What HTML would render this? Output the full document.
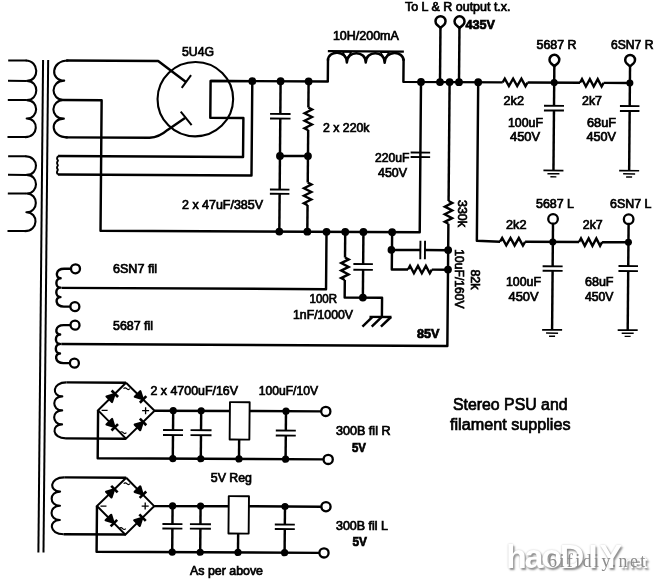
<!DOCTYPE html>
<html><head><meta charset="utf-8"><title>Stereo PSU and filament supplies</title>
<style>
html,body{margin:0;padding:0;background:#fff;}
body{width:659px;height:581px;overflow:hidden;position:relative;font-family:"Liberation Sans",sans-serif;}
svg{position:absolute;left:0;top:0;display:block;will-change:transform;}
svg text{font-family:"Liberation Sans",sans-serif;fill:#000;stroke:#000;stroke-width:0.7px;}
.wm{position:absolute;left:506px;top:536px;font-family:"Liberation Sans",sans-serif;font-weight:bold;font-size:34px;letter-spacing:-2.2px;color:#fff;text-shadow:1.5px 2px 2px #8f8f8f,0 0 2px #c4c4c4;white-space:nowrap;line-height:40px;}
.wm small{font-size:17px;letter-spacing:-0.8px;}
.wm2{position:absolute;left:548px;top:550px;font-family:"Liberation Serif",serif;font-size:18px;color:#8c8c8c;letter-spacing:2.4px;white-space:nowrap;line-height:22px;}
</style></head><body>
<svg width="659" height="581" viewBox="0 0 659 581">
<rect width="659" height="581" fill="#fff"/>
<g transform="matrix(1 0.005 -0.0085 1 0.69 -1.25)" fill="none" stroke="#000" stroke-linecap="butt" stroke-linejoin="round">
<path d="M25.5 61.6 C39.5 61.6 39.5 82 27 82 C39.5 82 39.5 101.2 27 101.2 C39.5 101.2 39.5 119.6 27 119.6 C39.5 119.6 39.5 138.2 25.5 138.2" stroke-width="2.1"/>
<path d="M8 61.6 L26.5 61.6" stroke-width="2"/>
<path d="M8 82 L26.5 82" stroke-width="2"/>
<path d="M8 101.2 L26.5 101.2" stroke-width="2"/>
<path d="M8 138.2 L26.5 138.2" stroke-width="2"/>
<path d="M26 157.4 C40 157.4 40 176 27.5 176 C40 176 40 194.6 27.5 194.6 C40 194.6 40 213.4 27.5 213.4 C40 213.4 40 232.2 26 232.2" stroke-width="2.1"/>
<path d="M8.8 157.4 L27 157.4" stroke-width="2"/>
<path d="M8.8 176 L27 176" stroke-width="2"/>
<path d="M8.8 194.6 L27 194.6" stroke-width="2"/>
<path d="M8.8 232.2 L27 232.2" stroke-width="2"/>
<path d="M42.9 61 L42.4 553.6" stroke-width="2"/>
<path d="M48 61 L47.5 553.6" stroke-width="2"/>
<path d="M68.2 61.4 C50.1 61.4 50.1 81.6 64.2 81.6 C50.1 81.6 50.1 101 64.2 101 C50.1 101 50.1 119.6 64.2 119.6 C50.1 119.6 50.1 138.3 68.2 138.3" stroke-width="2.1"/>
<path d="M66 61.4 L158 61.4 L186 82.3" stroke-width="2.45"/>
<path d="M191 75.5 L181.8 88.2" stroke-width="2"/>
<path d="M66 138.3 L150 138.3 C158 137.8 163 134.8 168 130.3 L185.3 118.3" stroke-width="2.45"/>
<path d="M181 112 L192 125.5" stroke-width="2"/>
<path d="M63.5 101 L101.8 101 L101.8 231.4 L421 231.4 L421 81.1" stroke-width="2.45"/>
<ellipse cx="195.5" cy="99.4" rx="37.8" ry="37.2" stroke-width="2.1"/>
<path d="M252.3 81.1 L210.6 81.1 L210.6 118 L243.7 118 L243.7 157 L58.7 157" stroke-width="2.45"/>
<path d="M58.7 157 q-2 2.3 0 4.6 q-2 2.3 0 4.6 q-2 2.3 0 4.6 q-2 2.3 0 4.7" stroke-width="1.8"/>
<path d="M58.7 175.5 L252.3 175.5 L252.3 81.1" stroke-width="2.45"/>
<path d="M210.6 81.1 L327.8 81.1 L327.8 58" stroke-width="2.45"/>
<path d="M403.4 58 L403.4 81.1 L502.7 81.1" stroke-width="2.45"/>
<path d="M327.6 50.8 L403.6 50.8" stroke-width="2.3"/>
<path d="M327.8 60 C327.8 49.5 346.7 49.5 346.7 62 C346.7 49.5 365.6 49.5 365.6 62 C365.6 49.5 384.5 49.5 384.5 62 C384.5 49.5 403.4 49.5 403.4 60" stroke-width="2.5"/>
<path d="M342.4 51.5 L346.7 58.5 L351 51.5 Z" stroke-width="1.5" fill="none"/>
<path d="M380.2 51.5 L384.5 58.5 L388.8 51.5 Z" stroke-width="1.5" fill="none"/>
<circle cx="252.3" cy="81.1" r="3.9" fill="#000" stroke="none"/>
<circle cx="280.6" cy="81.1" r="3.9" fill="#000" stroke="none"/>
<circle cx="308.6" cy="81.1" r="3.9" fill="#000" stroke="none"/>
<circle cx="421" cy="81.1" r="3.9" fill="#000" stroke="none"/>
<circle cx="440" cy="81.1" r="3.9" fill="#000" stroke="none"/>
<circle cx="449.6" cy="81.1" r="3.9" fill="#000" stroke="none"/>
<circle cx="459" cy="81.1" r="3.9" fill="#000" stroke="none"/>
<circle cx="478.2" cy="81.1" r="3.9" fill="#000" stroke="none"/>
<path d="M280.6 81.1 L280.6 113.8" stroke-width="2.45"/>
<path d="M270.35 113.8 L290.85 113.8" stroke-width="1.9"/>
<path d="M270.35 118.4 L290.85 118.4" stroke-width="1.9"/>
<path d="M280.6 118.4 L280.6 189.4" stroke-width="2.45"/>
<path d="M270.85 189.4 L290.35 189.4" stroke-width="1.9"/>
<path d="M270.85 193.7 L290.35 193.7" stroke-width="1.9"/>
<path d="M280.6 193.7 L280.6 231.4" stroke-width="2.45"/>
<path d="M308.6 81.1 L308.6 107.3" stroke-width="2.45"/>
<path d="M308.6 107.3 L312.3 109.17 L304.9 112.92 L312.3 116.67 L304.9 120.43 L312.3 124.18 L304.9 127.93 L308.6 129.8" stroke-width="2.4" stroke-linejoin="miter"/>
<path d="M308.6 129.8 L308.6 182.3" stroke-width="2.45"/>
<path d="M308.6 182.3 L312.3 184.18 L304.9 187.93 L312.3 191.68 L304.9 195.43 L312.3 199.18 L304.9 202.93 L308.6 204.8" stroke-width="2.4" stroke-linejoin="miter"/>
<path d="M308.6 204.8 L308.6 231.4" stroke-width="2.45"/>
<path d="M280.6 155.8 L308.6 155.8" stroke-width="2.45"/>
<circle cx="280.6" cy="155.8" r="3.9" fill="#000" stroke="none"/>
<circle cx="308.6" cy="155.8" r="3.9" fill="#000" stroke="none"/>
<circle cx="280.6" cy="231.4" r="3.9" fill="#000" stroke="none"/>
<circle cx="308.6" cy="231.4" r="3.9" fill="#000" stroke="none"/>
<path d="M411.25 151.7 L430.75 151.7" stroke-width="1.9"/>
<path d="M411.25 156.2 L430.75 156.2" stroke-width="1.9"/>
<path d="M440 81.1 L440 25" stroke-width="2.45"/>
<path d="M459 81.1 L459 25" stroke-width="2.45"/>
<path d="M440 26.9 L436.5 23.87 A5 5 0 1 1 443.5 23.87 Z" fill="#fff" stroke-width="2.5"/>
<path d="M459 26.9 L455.5 23.87 A5 5 0 1 1 462.5 23.87 Z" fill="#fff" stroke-width="2.5"/>
<path d="M449.6 81.1 L449.6 200" stroke-width="2.45"/>
<path d="M449.6 200 L453.3 201.9 L445.9 205.7 L453.3 209.5 L445.9 213.3 L453.3 217.1 L445.9 220.9 L449.6 222.8" stroke-width="2.4" stroke-linejoin="miter"/>
<path d="M449.6 222.8 L449.6 345 L63.5 345" stroke-width="2.45"/>
<circle cx="449.6" cy="249.1" r="3.9" fill="#000" stroke="none"/>
<circle cx="449.6" cy="268.6" r="3.9" fill="#000" stroke="none"/>
<path d="M502.7 81.1 L504.77 77.4 L508.93 84.8 L513.08 77.4 L517.23 84.8 L521.38 77.4 L525.52 84.8 L527.6 81.1" stroke-width="2.4" stroke-linejoin="miter"/>
<path d="M527.6 81.1 L580 81.1" stroke-width="2.45"/>
<path d="M580 81.1 L581.97 77.4 L585.9 84.8 L589.83 77.4 L593.77 84.8 L597.7 77.4 L601.63 84.8 L603.6 81.1" stroke-width="2.4" stroke-linejoin="miter"/>
<path d="M603.6 81.1 L629.9 81.1" stroke-width="2.45"/>
<circle cx="554.2" cy="81.1" r="3.5" fill="#000" stroke="none"/>
<circle cx="629.9" cy="81.1" r="3.5" fill="#000" stroke="none"/>
<path d="M554.2 62.5 L554.2 104.3" stroke-width="2.45"/>
<path d="M544.2 104.3 L564.2 104.3" stroke-width="1.9"/>
<path d="M544.2 109 L564.2 109" stroke-width="1.9"/>
<path d="M554.2 109 L554.2 169" stroke-width="2.45"/>
<path d="M544.2 169 L564.2 169" stroke-width="1.7"/>
<path d="M548.2 172.2 L560.2 172.2" stroke-width="1.5"/>
<path d="M551.2 175.3 L557.2 175.3" stroke-width="1.4"/>
<path d="M629.9 62.5 L629.9 104.2" stroke-width="2.45"/>
<path d="M620.15 104.2 L639.65 104.2" stroke-width="1.9"/>
<path d="M620.15 109.1 L639.65 109.1" stroke-width="1.9"/>
<path d="M629.9 109.1 L629.9 168.8" stroke-width="2.45"/>
<path d="M619.9 168.8 L639.9 168.8" stroke-width="1.7"/>
<path d="M623.9 172 L635.9 172" stroke-width="1.5"/>
<path d="M626.9 175.1 L632.9 175.1" stroke-width="1.4"/>
<path d="M554.2 64.7 L550.77 61.7 A4.9 4.9 0 1 1 557.63 61.7 Z" fill="#fff" stroke-width="2.5"/>
<path d="M629.9 64.5 L626.47 61.5 A4.9 4.9 0 1 1 633.33 61.5 Z" fill="#fff" stroke-width="2.5"/>
<path d="M478.2 81.1 L478.2 239.6 L501.4 240.4" stroke-width="2.45"/>
<path d="M501.4 240.4 L503.48 236.7 L507.65 244.1 L511.82 236.7 L515.98 244.1 L520.15 236.7 L524.32 244.1 L526.4 240.4" stroke-width="2.4" stroke-linejoin="miter"/>
<path d="M526.4 240.4 L580.4 240.4" stroke-width="2.45"/>
<path d="M580.4 240.4 L582.32 236.7 L586.15 244.1 L589.98 236.7 L593.82 244.1 L597.65 236.7 L601.48 244.1 L603.4 240.4" stroke-width="2.4" stroke-linejoin="miter"/>
<path d="M603.4 240.4 L629.8 240.4" stroke-width="2.45"/>
<circle cx="554.2" cy="240.4" r="3.5" fill="#000" stroke="none"/>
<circle cx="629.8" cy="240.4" r="3.5" fill="#000" stroke="none"/>
<path d="M554.2 221.5 L554.2 264.8" stroke-width="2.45"/>
<path d="M544.2 264.8 L564.2 264.8" stroke-width="1.9"/>
<path d="M544.2 269.3 L564.2 269.3" stroke-width="1.9"/>
<path d="M554.2 269.3 L554.2 328.4" stroke-width="2.45"/>
<path d="M544.2 328.4 L564.2 328.4" stroke-width="1.7"/>
<path d="M548.2 331.6 L560.2 331.6" stroke-width="1.5"/>
<path d="M551.2 334.7 L557.2 334.7" stroke-width="1.4"/>
<path d="M629.8 221.5 L629.8 264.2" stroke-width="2.45"/>
<path d="M620.05 264.2 L639.55 264.2" stroke-width="1.9"/>
<path d="M620.05 269.2 L639.55 269.2" stroke-width="1.9"/>
<path d="M629.8 269.2 L629.8 328.2" stroke-width="2.45"/>
<path d="M619.8 328.2 L639.8 328.2" stroke-width="1.7"/>
<path d="M623.8 331.4 L635.8 331.4" stroke-width="1.5"/>
<path d="M626.8 334.5 L632.8 334.5" stroke-width="1.4"/>
<circle cx="554.2" cy="217.4" r="4.8" fill="#fff" stroke-width="2.3"/>
<circle cx="629.8" cy="217.3" r="4.8" fill="#fff" stroke-width="2.3"/>
<circle cx="327.8" cy="231.4" r="3.9" fill="#000" stroke="none"/>
<circle cx="346.5" cy="231.4" r="3.9" fill="#000" stroke="none"/>
<circle cx="364.7" cy="231.4" r="3.9" fill="#000" stroke="none"/>
<circle cx="393.4" cy="231.4" r="3.9" fill="#000" stroke="none"/>
<path d="M63.5 288.8 L327.8 288.8 L327.8 231.4" stroke-width="2.45"/>
<path d="M346.5 231.4 L346.5 257" stroke-width="2.45"/>
<path d="M346.5 257 L350.2 258.88 L342.8 262.62 L350.2 266.38 L342.8 270.12 L350.2 273.88 L342.8 277.62 L346.5 279.5" stroke-width="2.4" stroke-linejoin="miter"/>
<path d="M346.5 279.5 L346.5 297 L383.9 297 L383.9 316" stroke-width="2.45"/>
<path d="M364.7 231.4 L364.7 263.5" stroke-width="2.45"/>
<path d="M354.95 263.5 L374.45 263.5" stroke-width="1.9"/>
<path d="M354.95 269.3 L374.45 269.3" stroke-width="1.9"/>
<path d="M364.7 269.3 L364.7 297" stroke-width="2.45"/>
<circle cx="364.7" cy="297" r="3.9" fill="#000" stroke="none"/>
<path d="M371.5 316.3 L393.5 316.3" stroke-width="2.3"/>
<path d="M374.5 316.3 L364.5 326" stroke-width="2.5"/>
<path d="M383.8 316.3 L373.8 326" stroke-width="2.5"/>
<path d="M393 316.3 L383 326" stroke-width="2.5"/>
<path d="M393.4 231.4 L393.4 268.7 L409.6 268.7" stroke-width="2.45"/>
<path d="M409.6 268.7 L411.58 265 L415.55 272.4 L419.52 265 L423.48 272.4 L427.45 265 L431.42 272.4 L433.4 268.7" stroke-width="2.4" stroke-linejoin="miter"/>
<path d="M433.4 268.7 L449.6 268.7" stroke-width="2.45"/>
<path d="M393.4 249.2 L421.8 249.2" stroke-width="2.45"/>
<path d="M421.8 239.95 L421.8 258.45" stroke-width="1.9"/>
<path d="M426.4 239.95 L426.4 258.45" stroke-width="1.9"/>
<path d="M426.4 249.2 L449.6 249.2" stroke-width="2.45"/>
<circle cx="392.8" cy="249.2" r="3.8" fill="#000" stroke="none"/>
<path d="M73.1 269.7 L65.8 269.7 C56.71 269.7 56.71 279.15 62.3 279.15 C56.71 279.15 56.71 288.6 62.3 288.6 C56.71 288.6 56.71 298.05 62.3 298.05 C56.71 298.05 56.71 307.5 65.8 307.5 L73.1 307.5" stroke-width="2.4"/>
<circle cx="77.1" cy="269.7" r="4.5" fill="#fff" stroke-width="2.3"/>
<circle cx="76.8" cy="307.5" r="4.5" fill="#fff" stroke-width="2.3"/>
<path d="M73.1 326 L65.8 326 C56.71 326 56.71 335.5 62.3 335.5 C56.71 335.5 56.71 345 62.3 345 C56.71 345 56.71 354.5 62.3 354.5 C56.71 354.5 56.71 364 65.8 364 L73.1 364" stroke-width="2.4"/>
<circle cx="77.1" cy="326" r="4.5" fill="#fff" stroke-width="2.3"/>
<circle cx="76.8" cy="364" r="4.5" fill="#fff" stroke-width="2.3"/>
<path d="M69 383.3 C54.36 383.3 54.36 397.3 65 397.3 C54.36 397.3 54.36 411.3 65 411.3 C54.36 411.3 54.36 425.3 65 425.3 C54.36 425.3 54.36 439.3 69 439.3" stroke-width="2.1"/>
<path d="M69 383.3 L128.6 383.3" stroke-width="2.45"/>
<path d="M69 439.3 L129 439.3" stroke-width="2.45"/>
<path d="M128.6 383.3 L157.4 411.2 L129 439.3 L100.9 411.1 L128.6 383.3" stroke-width="2" stroke-linejoin="miter"/>
<path d="M114.76 402.72 L109.23 397.21 L117.23 394.71 Z" fill="#000" stroke-width="2.2"/>
<path d="M120.76 397.68 L114.24 391.19" stroke-width="2.6"/>
<path d="M137.49 397.34 L142.91 391.74 L145.52 399.69 Z" fill="#000" stroke-width="2.2"/>
<path d="M142.6 403.27 L149 396.66" stroke-width="2.6"/>
<path d="M109.43 425.19 L114.96 419.68 L117.43 427.69 Z" fill="#000" stroke-width="2.2"/>
<path d="M114.44 431.21 L120.96 424.72" stroke-width="2.6"/>
<path d="M143.17 430.77 L137.68 425.22 L145.7 422.78 Z" fill="#000" stroke-width="2.2"/>
<path d="M149.21 425.78 L142.74 419.24" stroke-width="2.6"/>
<path d="M104.4 411.1 L110.4 411.1" stroke-width="1.3"/>
<path d="M144.9 411.2 L151.9 411.2" stroke-width="1.3"/>
<path d="M148.4 407.7 L148.4 414.7" stroke-width="1.3"/>
<path d="M126.1 389.3 q1.6 -1.8 3.2 0 t3.2 0" stroke-width="1.2"/>
<path d="M123 433.3 q1.6 -1.8 3.2 0 t3.2 0" stroke-width="1.2"/>
<path d="M100.9 411.1 L100.9 459 L327.4 459" stroke-width="2.45"/>
<path d="M157.4 411.2 L232.7 411" stroke-width="2.45"/>
<path d="M252.4 411 L324.6 411" stroke-width="2.45"/>
<rect x="232.7" y="402.2" width="19.7" height="37.4" stroke-width="1.9" fill="#fff"/>
<path d="M242.2 439.6 L242.2 459" stroke-width="2.45"/>
<path d="M176 411 L176 430.4" stroke-width="2.45"/>
<path d="M166 430.4 L186 430.4" stroke-width="1.9"/>
<path d="M166 435.4 L186 435.4" stroke-width="1.9"/>
<path d="M176 435.4 L176 459" stroke-width="2.45"/>
<circle cx="176" cy="411" r="3.6" fill="#000" stroke="none"/>
<circle cx="176" cy="459" r="3.6" fill="#000" stroke="none"/>
<path d="M204 411 L204 430.4" stroke-width="2.45"/>
<path d="M193.5 430.4 L214.5 430.4" stroke-width="1.9"/>
<path d="M193.5 435.4 L214.5 435.4" stroke-width="1.9"/>
<path d="M204 435.4 L204 459" stroke-width="2.45"/>
<circle cx="204" cy="411" r="3.6" fill="#000" stroke="none"/>
<circle cx="204" cy="459" r="3.6" fill="#000" stroke="none"/>
<path d="M288.8 411 L288.8 430.4" stroke-width="2.45"/>
<path d="M278.8 430.4 L298.8 430.4" stroke-width="1.9"/>
<path d="M278.8 435.4 L298.8 435.4" stroke-width="1.9"/>
<path d="M288.8 435.4 L288.8 459" stroke-width="2.45"/>
<circle cx="288.8" cy="411" r="3.6" fill="#000" stroke="none"/>
<circle cx="288.8" cy="459" r="3.6" fill="#000" stroke="none"/>
<circle cx="242.2" cy="459" r="3.6" fill="#000" stroke="none"/>
<circle cx="328.6" cy="411" r="4.6" fill="#fff" stroke-width="2.3"/>
<circle cx="331.4" cy="459" r="4.6" fill="#fff" stroke-width="2.3"/>
<path d="M67.6 478.3 C52.43 478.3 52.43 492.53 63.6 492.53 C52.43 492.53 52.43 506.75 63.6 506.75 C52.43 506.75 52.43 520.98 63.6 520.98 C52.43 520.98 52.43 535.2 67.6 535.2" stroke-width="2.1"/>
<path d="M67.6 478.3 L129.6 478.3" stroke-width="2.45"/>
<path d="M67.6 535.2 L129.2 535.2" stroke-width="2.45"/>
<path d="M129.6 478.3 L157.8 506.6 L129.2 535.2 L100.6 506.8 L129.6 478.3" stroke-width="2" stroke-linejoin="miter"/>
<path d="M115.05 498.07 L109.58 492.5 L117.6 490.09 Z" fill="#000" stroke-width="2.2"/>
<path d="M121.11 493.1 L114.66 486.54" stroke-width="2.6"/>
<path d="M138.18 492.44 L143.71 486.93 L146.18 494.94 Z" fill="#000" stroke-width="2.2"/>
<path d="M143.19 498.46 L149.71 491.97" stroke-width="2.6"/>
<path d="M109.38 521.02 L114.88 515.48 L117.39 523.47 Z" fill="#000" stroke-width="2.2"/>
<path d="M114.43 527.01 L120.91 520.48" stroke-width="2.6"/>
<path d="M143.5 526.42 L137.98 520.9 L145.98 518.42 Z" fill="#000" stroke-width="2.2"/>
<path d="M149.51 521.39 L143.01 514.89" stroke-width="2.6"/>
<path d="M104.1 506.8 L110.1 506.8" stroke-width="1.3"/>
<path d="M145.3 506.6 L152.3 506.6" stroke-width="1.3"/>
<path d="M148.8 503.1 L148.8 510.1" stroke-width="1.3"/>
<path d="M127.1 484.3 q1.6 -1.8 3.2 0 t3.2 0" stroke-width="1.2"/>
<path d="M123.2 529.2 q1.6 -1.8 3.2 0 t3.2 0" stroke-width="1.2"/>
<path d="M100.6 506.8 L100.6 552.5 L324 552.5" stroke-width="2.45"/>
<path d="M157.8 506.6 L232.3 506.3" stroke-width="2.45"/>
<path d="M252.5 506.3 L325.6 506.3" stroke-width="2.45"/>
<rect x="232.3" y="496.2" width="20.2" height="37.4" stroke-width="1.9" fill="#fff"/>
<path d="M242 533.6 L242 552.5" stroke-width="2.45"/>
<path d="M176.2 506.3 L176.2 524.4" stroke-width="2.45"/>
<path d="M166.2 524.4 L186.2 524.4" stroke-width="1.9"/>
<path d="M166.2 528.9 L186.2 528.9" stroke-width="1.9"/>
<path d="M176.2 528.9 L176.2 552.5" stroke-width="2.45"/>
<circle cx="176.2" cy="506.3" r="3.6" fill="#000" stroke="none"/>
<circle cx="176.2" cy="552.5" r="3.6" fill="#000" stroke="none"/>
<path d="M204.2 506.3 L204.2 524.4" stroke-width="2.45"/>
<path d="M193.7 524.4 L214.7 524.4" stroke-width="1.9"/>
<path d="M193.7 528.9 L214.7 528.9" stroke-width="1.9"/>
<path d="M204.2 528.9 L204.2 552.5" stroke-width="2.45"/>
<circle cx="204.2" cy="506.3" r="3.6" fill="#000" stroke="none"/>
<circle cx="204.2" cy="552.5" r="3.6" fill="#000" stroke="none"/>
<path d="M288.6 506.3 L288.6 524.4" stroke-width="2.45"/>
<path d="M278.6 524.4 L298.6 524.4" stroke-width="1.9"/>
<path d="M278.6 528.9 L298.6 528.9" stroke-width="1.9"/>
<path d="M288.6 528.9 L288.6 552.5" stroke-width="2.45"/>
<circle cx="288.6" cy="506.3" r="3.6" fill="#000" stroke="none"/>
<circle cx="288.6" cy="552.5" r="3.6" fill="#000" stroke="none"/>
<circle cx="242" cy="552.5" r="3.6" fill="#000" stroke="none"/>
<circle cx="329.6" cy="506.3" r="4.6" fill="#fff" stroke-width="2.3"/>
<circle cx="328" cy="552.5" r="4.6" fill="#fff" stroke-width="2.3"/>
</g>
<g>
<text x="405" y="10.87" font-size="12" textLength="105.5" lengthAdjust="spacingAndGlyphs">To L &amp; R output t.x.</text>
<text x="465.5" y="29.47" font-size="12" textLength="29.5" lengthAdjust="spacingAndGlyphs" font-weight="bold">435V</text>
<text x="332.9" y="40.27" font-size="12" textLength="65.9" lengthAdjust="spacingAndGlyphs">10H/200mA</text>
<text x="182" y="55.97" font-size="12" textLength="32" lengthAdjust="spacingAndGlyphs">5U4G</text>
<text x="536.5" y="49.47" font-size="12" textLength="40" lengthAdjust="spacingAndGlyphs">5687 R</text>
<text x="611" y="49.47" font-size="12" textLength="42.5" lengthAdjust="spacingAndGlyphs">6SN7 R</text>
<text x="503.5" y="105.47" font-size="12" textLength="20.5" lengthAdjust="spacingAndGlyphs">2k2</text>
<text x="582" y="105.47" font-size="12" textLength="20" lengthAdjust="spacingAndGlyphs">2k7</text>
<text x="508" y="126.97" font-size="12" textLength="35" lengthAdjust="spacingAndGlyphs">100uF</text>
<text x="510" y="140.97" font-size="12" textLength="30" lengthAdjust="spacingAndGlyphs">450V</text>
<text x="587" y="126.97" font-size="12" textLength="29" lengthAdjust="spacingAndGlyphs">68uF</text>
<text x="586.5" y="140.97" font-size="12" textLength="29.5" lengthAdjust="spacingAndGlyphs">450V</text>
<text x="323" y="131.97" font-size="12" textLength="46.5" lengthAdjust="spacingAndGlyphs">2 x 220k</text>
<text x="375" y="162.47" font-size="12" textLength="34.5" lengthAdjust="spacingAndGlyphs">220uF</text>
<text x="378" y="177.47" font-size="12" textLength="29" lengthAdjust="spacingAndGlyphs">450V</text>
<text x="182" y="208.97" font-size="12" textLength="81" lengthAdjust="spacingAndGlyphs">2 x 47uF/385V</text>
<text x="536" y="207.97" font-size="12" textLength="38" lengthAdjust="spacingAndGlyphs">5687 L</text>
<text x="610" y="207.97" font-size="12" textLength="41.5" lengthAdjust="spacingAndGlyphs">6SN7 L</text>
<text x="506" y="228.97" font-size="12" textLength="20.5" lengthAdjust="spacingAndGlyphs">2k2</text>
<text x="582.75" y="228.97" font-size="12" textLength="20" lengthAdjust="spacingAndGlyphs">2k7</text>
<text x="506" y="285.97" font-size="12" textLength="35" lengthAdjust="spacingAndGlyphs">100uF</text>
<text x="508.5" y="300.97" font-size="12" textLength="30" lengthAdjust="spacingAndGlyphs">450V</text>
<text x="585" y="285.97" font-size="12" textLength="28.5" lengthAdjust="spacingAndGlyphs">68uF</text>
<text x="585" y="300.97" font-size="12" textLength="28.5" lengthAdjust="spacingAndGlyphs">450V</text>
<text transform="translate(457.7 200) rotate(90)" x="0" y="0" font-size="12" textLength="27" lengthAdjust="spacingAndGlyphs">330k</text>
<text transform="translate(454.8 249.3) rotate(90)" x="0" y="0" font-size="12" textLength="59.3" lengthAdjust="spacingAndGlyphs">10uF/160V</text>
<text transform="translate(471 269.4) rotate(90)" x="0" y="0" font-size="12" textLength="20.1" lengthAdjust="spacingAndGlyphs">82k</text>
<text x="309.5" y="302.97" font-size="12" textLength="27.5" lengthAdjust="spacingAndGlyphs">100R</text>
<text x="293" y="318.72" font-size="12" textLength="60" lengthAdjust="spacingAndGlyphs">1nF/1000V</text>
<text x="417" y="337.97" font-size="12" textLength="22.5" lengthAdjust="spacingAndGlyphs" font-weight="bold">85V</text>
<text x="113" y="272.97" font-size="12" textLength="44" lengthAdjust="spacingAndGlyphs">6SN7 fil</text>
<text x="113" y="329.97" font-size="12" textLength="40" lengthAdjust="spacingAndGlyphs">5687 fil</text>
<text x="150.5" y="394.97" font-size="12" textLength="87.5" lengthAdjust="spacingAndGlyphs">2 x 4700uF/16V</text>
<text x="258.75" y="394.97" font-size="12" textLength="59.25" lengthAdjust="spacingAndGlyphs">100uF/10V</text>
<text x="210.75" y="481.97" font-size="12" textLength="41.25" lengthAdjust="spacingAndGlyphs">5V Reg</text>
<text x="336" y="435.47" font-size="12" textLength="54.5" lengthAdjust="spacingAndGlyphs">300B fil R</text>
<text x="352" y="452.47" font-size="12" textLength="14" lengthAdjust="spacingAndGlyphs" font-weight="bold">5V</text>
<text x="336" y="529.72" font-size="12" textLength="52" lengthAdjust="spacingAndGlyphs">300B fil L</text>
<text x="352.5" y="546.47" font-size="12" textLength="14.5" lengthAdjust="spacingAndGlyphs" font-weight="bold">5V</text>
<text x="190" y="575.47" font-size="12" textLength="73" lengthAdjust="spacingAndGlyphs">As per above</text>
<text x="453" y="410" font-size="16" textLength="114.5" lengthAdjust="spacingAndGlyphs">Stereo PSU and</text>
<text x="450" y="430" font-size="16" textLength="120.5" lengthAdjust="spacingAndGlyphs">filament supplies</text>
</g>
</svg>
<div class="wm">haoD<span style="padding:0 4px 0 6px">I</span>Y<small>.net</small></div>
<div class="wm2">6ifidiy.net</div>
</body></html>
